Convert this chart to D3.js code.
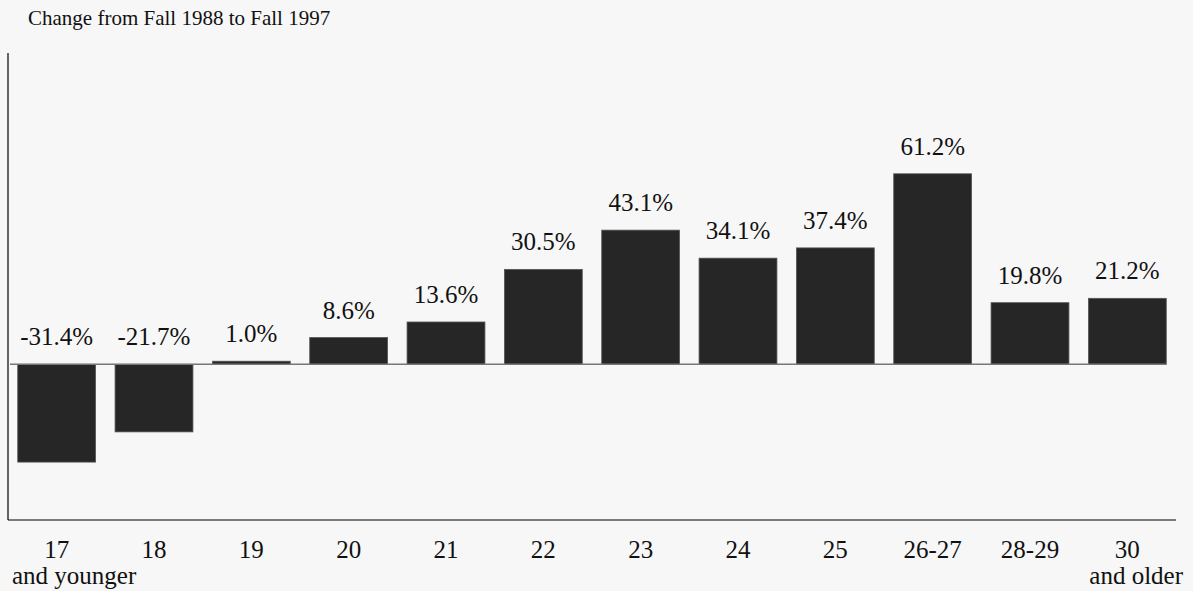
<!DOCTYPE html>
<html><head><meta charset="utf-8">
<script src="https://cdn.jsdelivr.net/npm/d3@7"></script>
<style>body{margin:0;background:#f7f7f7;}svg{display:block;}</style>
</head><body>
<script>
const categories = ["17", "18", "19", "20", "21", "22", "23", "24", "25", "26-27", "28-29", "30"];
const subLabels = ["and younger", "", "", "", "", "", "", "", "", "", "", "and older"];
const values = [-31.4, -21.7, 1.0, 8.6, 13.6, 30.5, 43.1, 34.1, 37.4, 61.2, 19.8, 21.2];
const title = "Change from Fall 1988 to Fall 1997";

const W = 1193, H = 591;
const svg = d3.select("body").append("svg").attr("width", W).attr("height", H)
  .style("font-family", "'Liberation Serif','Times New Roman',serif");
svg.append("rect").attr("width", W).attr("height", H).attr("fill", "#f7f7f7");

const x = d3.scaleBand().domain(categories).range([8, 1176]).paddingInner(0.2).paddingOuter(0.1);
const y = d3.scaleLinear().domain([-50, 100]).range([520, 53]);

svg.append("text").attr("x", 28).attr("y", 25).attr("font-size", 21).attr("fill", "#111").text(title);

// axes frame
svg.append("line").attr("x1", 8).attr("x2", 8).attr("y1", y(100)).attr("y2", y(-50)).attr("stroke", "#000").attr("stroke-width", 1.2);
svg.append("line").attr("x1", 8).attr("x2", 1176).attr("y1", y(-50)).attr("y2", y(-50)).attr("stroke", "#000").attr("stroke-width", 1.2);

// bars
svg.selectAll("rect.bar").data(values).join("rect").attr("class", "bar")
  .attr("x", (d, i) => x(categories[i]))
  .attr("width", x.bandwidth())
  .attr("y", d => y(Math.max(0, d)))
  .attr("height", d => Math.abs(y(d) - y(0)))
  .attr("fill", "#262626").attr("stroke", "#555").attr("stroke-width", 0.8);

// zero line
svg.append("line").attr("x1", 10).attr("x2", 1166).attr("y1", y(0)).attr("y2", y(0)).attr("stroke", "#777").attr("stroke-width", 1.5);

// value labels
svg.selectAll("text.val").data(values).join("text").attr("class", "val")
  .attr("x", (d, i) => x(categories[i]) + x.bandwidth() / 2)
  .attr("y", d => y(Math.max(0, d)) - 19)
  .attr("text-anchor", "middle").attr("font-size", 25).attr("fill", "#111")
  .text(d => d.toFixed(1) + "%");

// category labels
svg.selectAll("text.cat").data(categories).join("text").attr("class", "cat")
  .attr("x", d => x(d) + x.bandwidth() / 2)
  .attr("y", 558).attr("text-anchor", "middle").attr("font-size", 25).attr("fill", "#111")
  .text(d => d);

svg.selectAll("text.sub").data(subLabels).join("text").attr("class", "sub")
  .attr("x", (d, i) => i === 0 ? 12 : 1183)
  .attr("y", 584)
  .attr("text-anchor", (d, i) => i === 0 ? "start" : "end")
  .attr("font-size", 25).attr("fill", "#111")
  .text(d => d);
</script>
</body></html>
